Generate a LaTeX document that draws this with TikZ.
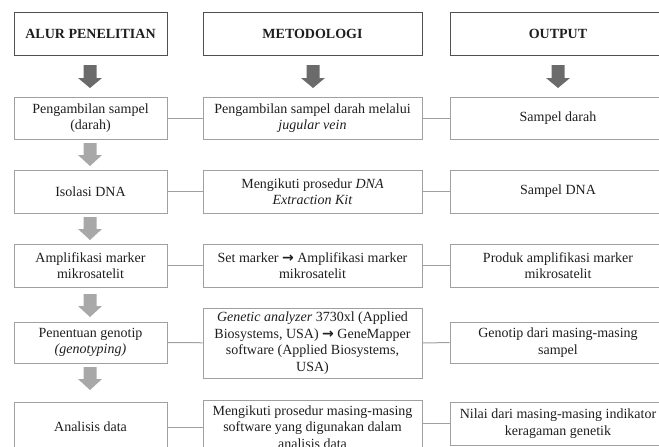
\documentclass[tikz,border=0pt]{standalone}
\usepackage{fontspec}
\setmainfont{Liberation Serif}
\newfontfamily\panahfont{DejaVu Sans}
\definecolor{gelap}{HTML}{6B6B6B}
\definecolor{terang}{HTML}{A8A8A8}
\definecolor{garis}{HTML}{A0A0A0}
\definecolor{tepi}{HTML}{505050}
\definecolor{teks}{HTML}{1E1E1E}
\newcommand{\ke}{{\panahfont\bfseries →}}
\begin{document}
\begin{tikzpicture}[x=1pt, y=-1pt,
  kotak/.style={draw=garis, line width=0.8pt, text=teks, align=center, inner sep=3pt,
    font=\fontsize{14}{16.5}\selectfont},
  judul/.style={kotak, draw=tepi, font=\fontsize{14}{16.5}\selectfont\bfseries},
  kiri/.style={minimum width=153pt},
  tengah/.style={minimum width=219pt},
  kanan/.style={minimum width=216pt},
  hubung/.style={draw=garis, line width=1pt}]
\useasboundingbox (0,0) rectangle (659,447);
% Judul kolom
\node[judul, kiri, minimum height=43pt] (alur) at (90.5,33.5) {ALUR PENELITIAN};
\node[judul, tengah, minimum height=43pt] (metode) at (312.5,33.5) {METODOLOGI};
\node[judul, kanan, minimum height=43pt] (hasil) at (558,33.5) {OUTPUT};
% Panah gelap
\foreach \x in {90,313,558}
  \fill[gelap] (\x-6.5,65) -- (\x+6.5,65) -- (\x+6.5,78) -- (\x+12,78) -- (\x,88)
    -- (\x-12,78) -- (\x-6.5,78) -- cycle;
% Baris 1
\node[kotak, kiri, minimum height=42pt] (a1) at (90.5,118) {Pengambilan sampel\\(darah)};
\node[kotak, tengah, minimum height=42pt] (b1) at (312.5,118) {Pengambilan sampel darah melalui\\\textit{jugular vein}};
\node[kotak, kanan, minimum height=42pt] (c1) at (558,118) {Sampel darah};
% Baris 2
\node[kotak, kiri, minimum height=43pt] (a2) at (90.5,191.5) {Isolasi DNA};
\node[kotak, tengah, minimum height=43pt] (b2) at (312.5,191.5) {Mengikuti prosedur \textit{DNA}\\\textit{Extraction Kit}};
\node[kotak, kanan, minimum height=43pt] (c2) at (558,191.5) {Sampel DNA};
% Baris 3
\node[kotak, kiri, minimum height=43pt] (a3) at (90.5,265.5) {Amplifikasi marker\\mikrosatelit};
\node[kotak, tengah, minimum height=43pt] (b3) at (312.5,265.5) {Set marker \ke{} Amplifikasi marker\\mikrosatelit};
\node[kotak, kanan, minimum height=43pt] (c3) at (558,265.5) {Produk amplifikasi marker\\mikrosatelit};
% Baris 4
\node[kotak, kiri, minimum height=41pt] (a4) at (90.5,342.5) {Penentuan genotip\\\textit{(genotyping)}};
\node[kotak, tengah, minimum height=70pt] (b4) at (312.5,343) {\textit{Genetic analyzer} 3730xl (Applied\\Biosystems, USA) \ke{} GeneMapper\\software (Applied Biosystems,\\USA)};
\node[kotak, kanan, minimum height=41pt] (c4) at (558,342.5) {Genotip dari masing-masing\\sampel};
% Baris 5
\node[kotak, kiri, minimum height=50pt] (a5) at (90.5,427) {Analisis data};
\node[kotak, tengah, minimum height=54pt] (b5) at (312.5,427) {Mengikuti prosedur masing-masing\\software yang digunakan dalam\\analisis data};
\node[kotak, kanan, minimum height=43pt] (c5) at (558,423.5) {Nilai dari masing-masing indikator\\keragaman genetik};
% Panah terang
\foreach \y in {143,217,294,367}
  \fill[terang] (83.5,\y) -- (96.5,\y) -- (96.5,\y+12) -- (102,\y+12) -- (90,\y+23)
    -- (78,\y+12) -- (83.5,\y+12) -- cycle;
% Garis penghubung
\foreach \i in {1,...,4} {
  \draw[hubung] (a\i) -- (b\i);
  \draw[hubung] (b\i) -- (c\i);
}
\draw[hubung] (a5.east) -- (a5.east -| b5.west);
\draw[hubung] (c5.west -| b5.east) -- (c5.west);
\end{tikzpicture}
\end{document}
